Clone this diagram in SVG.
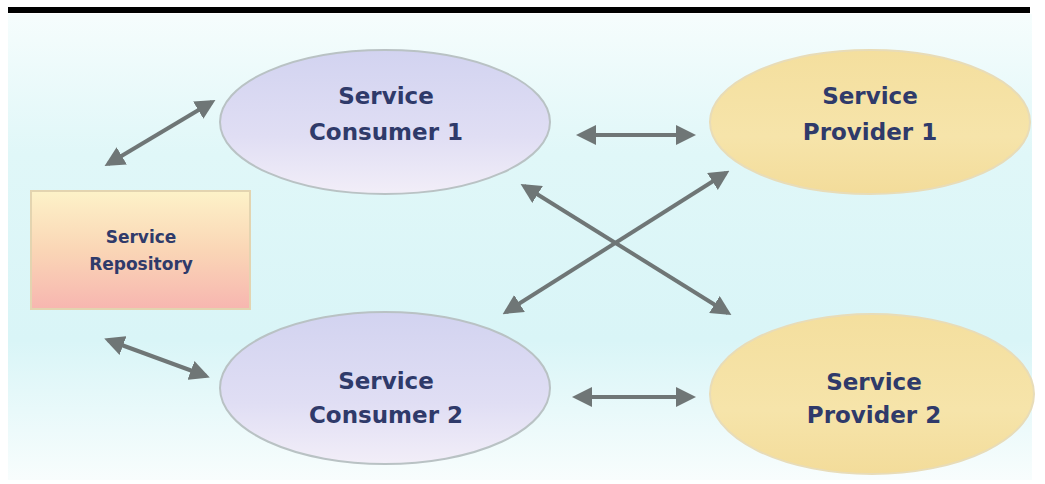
<svg xmlns="http://www.w3.org/2000/svg" width="1045" height="484" viewBox="0 0 1045 484">
<style>
.lbl{font-family:"DejaVu Sans",Verdana,sans-serif;font-weight:bold;fill:#2f3a6a;text-anchor:middle}
.big{font-size:23px}
.sm{font-size:17px}
.conn{stroke:#6f7676;stroke-width:4;fill:none;marker-start:url(#ah);marker-end:url(#ah)}
</style>
<defs>
<linearGradient id="bg" x1="0" y1="0" x2="0" y2="1">
<stop offset="0" stop-color="#f6fdfd"/>
<stop offset="0.3" stop-color="#e0f7f8"/>
<stop offset="0.7" stop-color="#d9f5f7"/>
<stop offset="1" stop-color="#f8fdfd"/>
</linearGradient>
<linearGradient id="consv" x1="0" y1="0" x2="0" y2="1">
<stop offset="0" stop-color="#d2d3f0"/>
<stop offset="0.6" stop-color="#e0def4"/>
<stop offset="1" stop-color="#f2eef8"/>
</linearGradient>
<linearGradient id="prov" x1="0" y1="0" x2="0" y2="1">
<stop offset="0" stop-color="#f4df9e"/>
<stop offset="0.6" stop-color="#f6e4aa"/>
<stop offset="1" stop-color="#f3dc9a"/>
</linearGradient>
<linearGradient id="repo" x1="0" y1="0" x2="0" y2="1">
<stop offset="0" stop-color="#fdf2c8"/>
<stop offset="0.5" stop-color="#fad6b6"/>
<stop offset="1" stop-color="#f7b6b0"/>
</linearGradient>
<marker id="ah" viewBox="0 0 10 10" refX="8" refY="5" markerWidth="5" markerHeight="5" orient="auto-start-reverse" markerUnits="strokeWidth">
<path d="M0,0 L10,5 L0,10 z" fill="#6f7676"/>
</marker>
</defs>
<rect x="0" y="0" width="1045" height="484" fill="#ffffff"/>
<rect x="8" y="14" width="1024" height="466" fill="url(#bg)"/>
<rect x="8" y="7" width="1022" height="6" fill="#000000"/>

<g id="connectors">
<line class="conn" x1="108" y1="164" x2="212" y2="102"/>
<line class="conn" x1="108" y1="340" x2="206" y2="376"/>
<line class="conn" x1="580" y1="135" x2="692" y2="135"/>
<line class="conn" x1="576" y1="397" x2="692" y2="397"/>
<line class="conn" x1="524" y1="186" x2="728" y2="313"/>
<line class="conn" x1="506" y1="312" x2="726" y2="173"/>
</g>

<g id="consumer1">
<ellipse cx="385" cy="122" rx="165" ry="72" fill="url(#consv)" stroke="#b9c2c4" stroke-width="2"/>
<text class="lbl big" x="386" y="104">Service</text>
<text class="lbl big" x="386" y="140">Consumer 1</text>
</g>
<g id="provider1">
<ellipse cx="870" cy="122" rx="160" ry="72" fill="url(#prov)" stroke="#e8dcb8" stroke-width="2"/>
<text class="lbl big" x="870" y="104">Service</text>
<text class="lbl big" x="870" y="140">Provider 1</text>
</g>
<g id="repository">
<rect x="31" y="191" width="219" height="118" fill="url(#repo)" stroke="#e3d4b0" stroke-width="2"/>
<text class="lbl sm" x="141" y="243">Service</text>
<text class="lbl sm" x="141" y="270">Repository</text>
</g>
<g id="consumer2">
<ellipse cx="385" cy="388" rx="165" ry="76" fill="url(#consv)" stroke="#b9c2c4" stroke-width="2"/>
<text class="lbl big" x="386" y="389">Service</text>
<text class="lbl big" x="386" y="423">Consumer 2</text>
</g>
<g id="provider2">
<ellipse cx="872" cy="394" rx="162" ry="80" fill="url(#prov)" stroke="#e8dcb8" stroke-width="2"/>
<text class="lbl big" x="874" y="390">Service</text>
<text class="lbl big" x="874" y="423">Provider 2</text>
</g>
</svg>
